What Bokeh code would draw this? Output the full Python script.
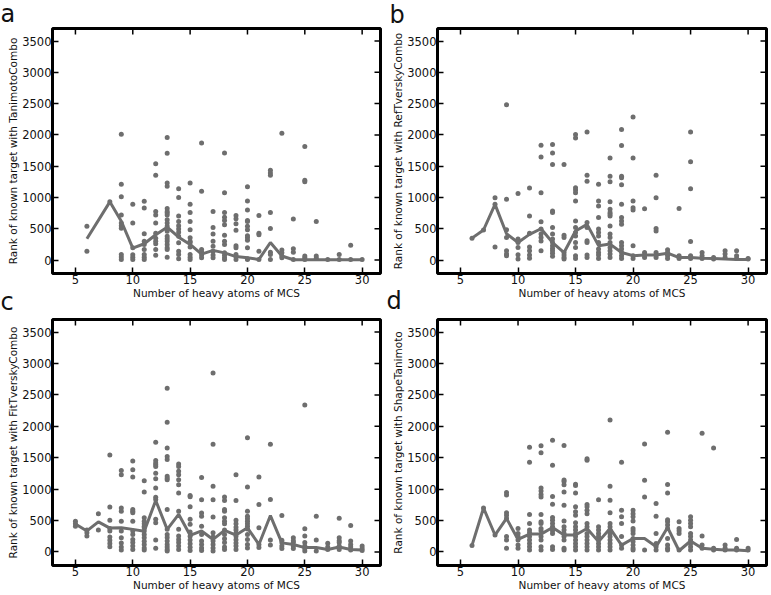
import math
from bokeh.plotting import figure
from bokeh.models import FixedTicker, Range1d, Title
from bokeh.layouts import column, row
from bokeh.embed import file_html
from bokeh.resources import INLINE

# ---------------- data ----------------
X_TICKS = [5, 10, 15, 20, 25, 30]
Y_TICKS = [0, 500, 1000, 1500, 2000, 2500, 3000, 3500]
X_LABEL = "Number of heavy atoms of MCS"
X_MIN, X_MAX = 3.0, 31.6
Y_MIN, Y_MAX = -215, 3700

# panel a: TanimotoCombo
A_X = [6, 8, 9, 10, 11, 12, 13, 14, 15, 16, 17, 18, 19, 20, 21, 22, 23, 24, 25, 26, 27, 28, 29, 30]
A_RANKS = [
    [540, 140],
    [930],
    [2010, 1210, 1010, 720, 590, 550, 510, 90, 50, 10],
    [890, 590, 195, 85, 45, 10],
    [940, 830, 420, 300, 250, 170, 90, 45, 10],
    [1540, 1355, 775, 720, 590, 430, 350, 300, 260, 170, 75],
    [1960, 1705, 1230, 1180, 825, 775, 750, 720, 645, 590, 540, 460, 380, 340, 300, 250, 195, 170, 45],
    [1140, 1000, 705, 615, 550, 495, 445, 380, 275, 140, 90, 20],
    [1230, 890, 760, 615, 485, 355, 300, 275, 210, 90, 45, 10],
    [1870, 1100, 170, 130, 80, 35],
    [775, 520, 415, 300, 220, 140, 80, 35],
    [1710, 1075, 760, 685, 630, 565, 395, 300, 250, 115, 75, 35, 10],
    [710, 660, 580, 475, 230, 195, 90, 55, 10],
    [1170, 945, 800, 630, 615, 540, 485, 390, 355, 315, 195, 20, 10],
    [710, 430, 405, 140, 10],
    [1435, 1390, 1355, 760, 505, 125, 90, 10],
    [2025, 160, 115, 65, 35],
    [655, 180, 125, 10],
    [1815, 1275, 1250, 65, 35, 10],
    [615, 65, 30],
    [10],
    [90, 10],
    [235, 10],
    [10],
]
A_MEDIAN = [340, 930, 620, 190, 260, 405, 525, 365, 250, 95, 155, 115, 55, 35, 10, 280, 65, 5, 5, 5, 5, 5, 5, 5]

# panel b: RefTverskyCombo
B_X = [6, 7, 8, 9, 10, 11, 12, 13, 14, 15, 16, 17, 18, 19, 20, 21, 22, 23, 24, 25, 26, 27, 28, 29, 30]
B_RANKS = [
    [350],
    [480],
    [995, 890, 210],
    [2480, 970, 485, 360, 150, 95, 70],
    [1065, 335, 280, 200, 85, 15],
    [1150, 705, 430, 210, 150, 80, 30],
    [1835, 1645, 1075, 610, 495, 415, 360, 305, 150],
    [1845, 1710, 1525, 785, 760, 520, 415, 335, 280, 230, 185, 150, 110, 60],
    [1525, 395, 360, 120, 80, 40, 15],
    [2005, 1950, 1155, 1120, 1075, 945, 625, 520, 440, 385, 280, 200, 70, 25],
    [2045, 1355, 1260, 600, 520, 310, 280, 80, 40],
    [1210, 945, 865, 680, 495, 440, 385, 280, 175, 120, 80, 25],
    [1630, 1340, 1250, 930, 810, 760, 730, 705, 545, 415, 360, 280, 200, 150, 95, 40],
    [2085, 1830, 1340, 1315, 1205, 890, 680, 625, 570, 280, 230, 175, 120, 70, 25],
    [2285, 1630, 945, 835, 800, 230, 70, 25],
    [820, 120, 80, 40],
    [1355, 995, 505, 465, 120, 80, 40],
    [165, 120, 70, 25],
    [825, 70, 25],
    [2045, 1570, 1140, 295, 70, 25],
    [120, 70, 25],
    [40, 15],
    [150, 95, 40],
    [150, 70, 25],
    [25, 15],
]
B_MEDIAN = [350, 480, 890, 420, 280, 410, 500, 280, 120, 465, 570, 230, 255, 120, 70, 80, 80, 110, 40, 40, 30, 25, 15, 10, 10]

# panel c: FitTverskyCombo
C_X = [5, 6, 7, 8, 9, 10, 11, 12, 13, 14, 15, 16, 17, 18, 19, 20, 21, 22, 23, 24, 25, 26, 27, 28, 29, 30]
C_RANKS = [
    [490, 450, 410],
    [350, 305, 255],
    [610, 350],
    [1545, 715, 505, 375, 335, 240, 185, 135, 85],
    [1295, 1230, 700, 650, 490, 335, 225, 145, 80, 30],
    [1450, 1310, 1195, 675, 650, 625, 490, 335, 280, 200, 150, 95, 40],
    [1135, 955, 545, 490, 450, 410, 385, 335, 280, 225, 170, 120, 65, 30],
    [1745, 1455, 1415, 1390, 1360, 1255, 1165, 1020, 870, 835, 520, 465, 190, 60],
    [2605, 2065, 1655, 1520, 1470, 1205, 1175, 1150, 675, 360, 280, 230, 175, 120, 80, 40, 15],
    [1400, 1360, 1285, 1230, 1150, 1070, 940, 650, 360, 255, 200, 150, 95, 40],
    [900, 880, 720, 520, 440, 320, 250, 190, 130, 75, 25],
    [1185, 830, 620, 570, 410, 280, 175, 120, 65, 25],
    [2850, 1715, 1045, 830, 555, 305, 240, 175, 120, 65, 15],
    [875, 820, 675, 650, 545, 490, 450, 350, 280, 210, 150, 80, 40],
    [1230, 820, 505, 450, 395, 350, 300, 250, 195, 145, 95, 40],
    [1820, 1035, 650, 570, 530, 490, 450, 410, 365, 280, 200, 120, 65],
    [1195, 755, 385, 120, 70],
    [1715, 835, 190, 110],
    [580, 185, 150, 95, 55],
    [225, 180, 150, 95, 55],
    [2340, 370, 255, 150, 95, 55, 15],
    [570, 190, 15],
    [140, 80, 40],
    [535, 225, 180, 150, 95, 40],
    [420, 175, 120, 80, 30],
    [95, 55, 25],
]
C_MEDIAN = [445, 335, 480, 380, 385, 360, 330, 820, 360, 600, 265, 335, 200, 345, 270, 385, 120, 580, 145, 120, 70, 70, 40, 80, 40, 30]

# panel d: ShapeTanimoto
D_X = [6, 7, 8, 9, 10, 11, 12, 13, 14, 15, 16, 17, 18, 19, 20, 21, 22, 23, 24, 25, 26, 27, 28, 29, 30]
D_RANKS = [
    [105],
    [700],
    [270],
    [945, 905, 625, 585, 535, 245, 190, 60],
    [375, 295, 245, 190, 110, 60],
    [1665, 1430, 595, 455, 350, 305, 245, 190, 135, 85, 30],
    [1690, 1580, 1020, 970, 915, 875, 595, 480, 455, 375, 340, 245, 190, 85, 30],
    [1780, 1380, 885, 760, 550, 505, 455, 400, 340, 295, 85, 40],
    [1695, 1145, 1120, 1070, 955, 745, 495, 400, 350, 295, 245, 190, 60, 30],
    [1080, 1060, 940, 720, 640, 585, 465, 400, 350, 295, 245, 190, 135, 85, 30],
    [1485, 1460, 755, 720, 665, 610, 455, 400, 295, 245, 190, 135, 85, 30],
    [830, 400, 350, 295, 245, 190, 135, 85, 30],
    [2100, 1045, 825, 625, 455, 400, 350, 295, 245, 190, 135, 85, 30],
    [1430, 665, 560, 455, 245, 110, 60],
    [665, 610, 560, 495, 375, 340, 295, 215, 165, 110, 60, 30],
    [1720, 1140, 875, 30],
    [770, 570, 295, 135, 85, 30],
    [1905, 1075, 940, 515, 480, 430, 375, 215, 110, 60, 30],
    [480, 375, 340, 295, 30],
    [560, 505, 455, 400, 295, 245, 190, 135, 85, 30],
    [1890, 255, 110, 60],
    [1655, 60, 30],
    [110, 60, 30],
    [200, 60, 30],
    [60, 30],
]
D_MEDIAN = [105, 700, 270, 535, 200, 285, 285, 390, 270, 270, 375, 165, 375, 110, 215, 215, 85, 390, 20, 175, 60, 45, 30, 30, 20]

# ---------------- styling ----------------
GRAY = "#6e6e6e"
FONT = "DejaVu Sans"
TICK_FS = "11.5px"
LABEL_FS = "10.5px"
LETTER_FS = "24px"


def style_axis(ax, ticks):
    ax.ticker = FixedTicker(ticks=ticks)
    ax.axis_line_color = None
    ax.major_tick_in = 6
    ax.major_tick_out = 0
    ax.minor_tick_line_color = None
    ax.major_tick_line_color = "black"
    ax.major_tick_line_width = 1.5
    ax.major_label_text_font = FONT
    ax.major_label_text_color = "#111111"
    ax.major_label_text_font_size = TICK_FS
    ax.major_label_standoff = 1
    ax.axis_label_text_font = FONT
    ax.axis_label_text_font_size = LABEL_FS
    ax.axis_label_text_font_style = "normal"
    ax.axis_label_text_color = "#111111"
    ax.axis_label_standoff = 0


def make_panel(xs, ranks, median, ylabel, width, height, bl, br, bt, bb):
    fx, fy = [], []
    for x, vals in zip(xs, ranks):
        for v in vals:
            fx.append(x)
            fy.append(v)
    p = figure(width=width, height=height, output_backend="svg", toolbar_location=None,
               x_range=Range1d(X_MIN, X_MAX), y_range=Range1d(Y_MIN, Y_MAX),
               min_border_left=bl, min_border_right=br, min_border_top=bt, min_border_bottom=bb,
               x_axis_label=X_LABEL, y_axis_label=ylabel)
    p.scatter(fx, fy, size=5, fill_color=GRAY, line_color=None)
    p.line(xs, median, line_color=GRAY, line_width=3)
    p.grid.visible = False
    style_axis(p.xaxis[0], X_TICKS)
    style_axis(p.yaxis[0], Y_TICKS)
    # inward ticks on the top and right edges of the frame
    p.ray(x=X_TICKS, y=[Y_MAX] * len(X_TICKS), length=6, length_units="screen",
          angle=-math.pi / 2, line_color="black", line_width=1.5)
    p.ray(x=[X_MAX] * len(Y_TICKS), y=Y_TICKS, length=6, length_units="screen",
          angle=math.pi, line_color="black", line_width=1.5)
    p.outline_line_color = "black"
    p.outline_line_width = 3
    p.outline_line_alpha = 1
    p.background_fill_color = "white"
    p.border_fill_color = "white"
    return p


def letter(p, text, place, offset, standoff):
    p.add_layout(Title(text=text, align="left", vertical_align="top", offset=offset,
                       standoff=standoff, text_font=FONT, text_font_size=LETTER_FS,
                       text_font_style="normal", text_color="#111111"), place)


pa = make_panel(A_X, A_RANKS, A_MEDIAN, "Rank of known target with TanimotoCombo", 385, 314, 52, 5, 28, 38)
pb = make_panel(B_X, B_RANKS, B_MEDIAN, "Rank of known target with RefTverskyCombo", 386, 314, 52, 5, 25, 41)
pc = make_panel(C_X, C_RANKS, C_MEDIAN, "Rank of known target with FitTverskyCombo", 385, 281, 52, 5, 4, 30)
pd = make_panel(D_X, D_RANKS, D_MEDIAN, "Rank of known target with ShapeTanimoto", 386, 281, 52, 5, 5, 28)

# panel letters (those of the lower row sit in the upper row's bottom margin)
letter(pa, "a", "above", -52, -2)
letter(pb, "b", "above", -48, -5)
letter(pa, "c", "below", -52, -28)
letter(pb, "d", "below", -51, -29)

layout = column(row(pa, pb), row(pc, pd))
open("out.html", "w").write(file_html(layout, INLINE))
